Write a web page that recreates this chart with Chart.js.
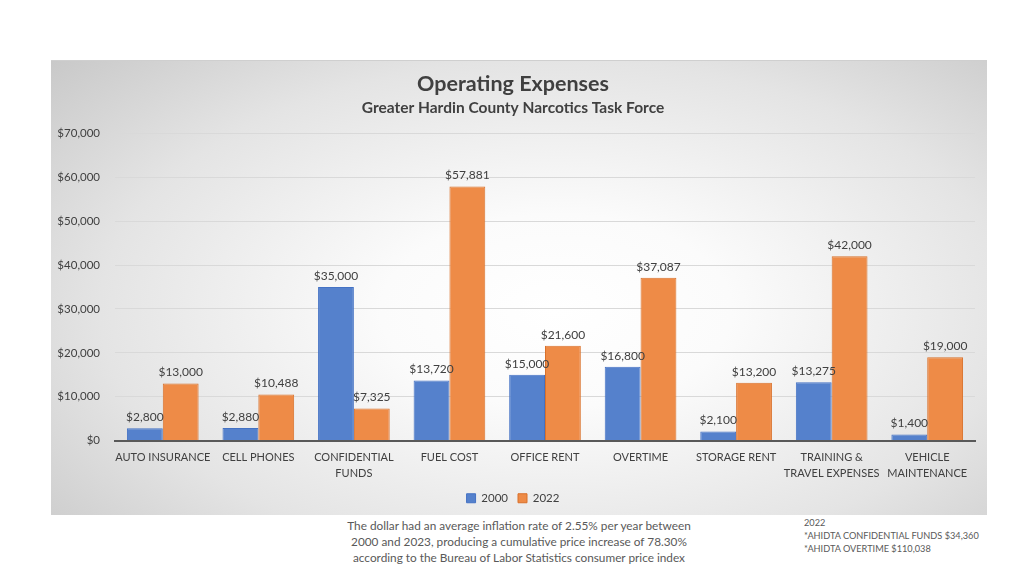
<!DOCTYPE html>
<html>
<head>
<meta charset="utf-8">
<script src="https://cdn.jsdelivr.net/npm/chart.js@4"></script>
<style>
  body { margin: 0; width: 1024px; height: 576px; background: #fff; position: relative; overflow: hidden; font-family: Lato, "Open Sans", sans-serif; }
  .chart-box {
    position: absolute; left: 51px; top: 60px; width: 936px; height: 455px;
    background: radial-gradient(ellipse 75% 85% at 54% 55%, #ffffff 0%, #fbfbfb 25%, #e4e4e4 65%, #c6c6c6 100%);
    border-top: 1px solid #cfcfcf;
    box-sizing: border-box;
  }
  .note { position: absolute; color: #595959; white-space: nowrap; }
  .note-left { left: 300px; width: 438px; top: 518px; text-align: center; font-size: 11.8px; line-height: 16px; }
  .note-right { left: 804px; top: 516px; font-size: 9.2px; line-height: 13px; }
</style>
</head>
<body>
<div class="chart-box">
  <canvas id="expensesChart" width="936" height="455"></canvas>
</div>
<div class="note note-left">The dollar had an average inflation rate of 2.55% per year between<br>2000 and 2023, producing a cumulative price increase of 78.30%<br>according to the Bureau of Labor Statistics consumer price index</div>
<div class="note note-right">2022<br>*AHIDTA CONFIDENTIAL FUNDS $34,360<br>*AHIDTA OVERTIME $110,038</div>

<script>
const categories = [
  "AUTO INSURANCE",
  "CELL PHONES",
  ["CONFIDENTIAL", "FUNDS"],
  "FUEL COST",
  "OFFICE RENT",
  "OVERTIME",
  "STORAGE RENT",
  ["TRAINING &", "TRAVEL EXPENSES"],
  ["VEHICLE", "MAINTENANCE"],
];
const values2000 = [2800, 2880, 35000, 13720, 15000, 16800, 2100, 13275, 1400];
const values2022 = [13000, 10488, 7325, 57881, 21600, 37087, 13200, 42000, 19000];
const yTicks = [0, 10000, 20000, 30000, 40000, 50000, 60000, 70000];

const money = v => "$" + v.toLocaleString("en-US");

const barLabels = {
  id: "barLabels",
  afterDatasetsDraw(chart) {
    const { ctx } = chart;
    ctx.save();
    ctx.font = "12px Lato, 'Open Sans', sans-serif";
    ctx.fillStyle = "#404040";
    ctx.textAlign = "center";
    ctx.textBaseline = "bottom";
    chart.data.datasets.forEach((ds, i) => {
      chart.getDatasetMeta(i).data.forEach((bar, j) => {
        ctx.fillText(money(ds.data[j]), bar.x, bar.y - 5);
      });
    });
    ctx.restore();
  },
};

new Chart(document.getElementById("expensesChart"), {
  type: "bar",
  data: {
    labels: categories,
    datasets: [
      {
        label: "2000",
        data: values2000,
        backgroundColor: "#5581cc",
        borderColor: "#4472c4",
        borderWidth: 1,
        categoryPercentage: 0.75,
        barPercentage: 1,
      },
      {
        label: "2022",
        data: values2022,
        backgroundColor: "#ee8b47",
        borderColor: "#d9712b",
        borderWidth: 1,
        categoryPercentage: 0.75,
        barPercentage: 1,
      },
    ],
  },
  options: {
    responsive: false,
    animation: false,
    layout: { padding: { top: 6, left: 0, right: 12, bottom: 2 } },
    plugins: {
      title: {
        display: true,
        text: "Operating Expenses",
        color: "#404040",
        font: { family: "Lato", size: 21.5, weight: "bold" },
        padding: { top: 4, bottom: 1 },
      },
      subtitle: {
        display: true,
        text: "Greater Hardin County Narcotics Task Force",
        color: "#404040",
        font: { family: "Lato", size: 15.5, weight: "bold" },
        padding: { top: 1, bottom: 16 },
      },
      legend: {
        position: "bottom",
        labels: {
          color: "#404040",
          font: { family: "Lato", size: 11.5 },
          boxWidth: 9,
          boxHeight: 9,
          padding: 10,
        },
      },
      tooltip: { enabled: false },
    },
    scales: {
      x: {
        grid: { display: false },
        border: { color: "#595959", width: 2 },
        ticks: {
          color: "#404040",
          font: { family: "Lato", size: 11, lineHeight: 1.45 },
          padding: 1,
          maxRotation: 0,
          autoSkip: false,
        },
      },
      y: {
        min: 0,
        max: 70000,
        afterBuildTicks: axis => { axis.ticks = yTicks.map(v => ({ value: v })); },
        afterFit: axis => { axis.width = 64; },
        grid: { color: "#d9d9d9", drawTicks: false },
        border: { display: false },
        ticks: {
          color: "#404040",
          font: { family: "Lato", size: 11.5 },
          padding: 15,
          callback: v => money(v),
        },
      },
    },
  },
  plugins: [barLabels],
});
</script>
</body>
</html>
